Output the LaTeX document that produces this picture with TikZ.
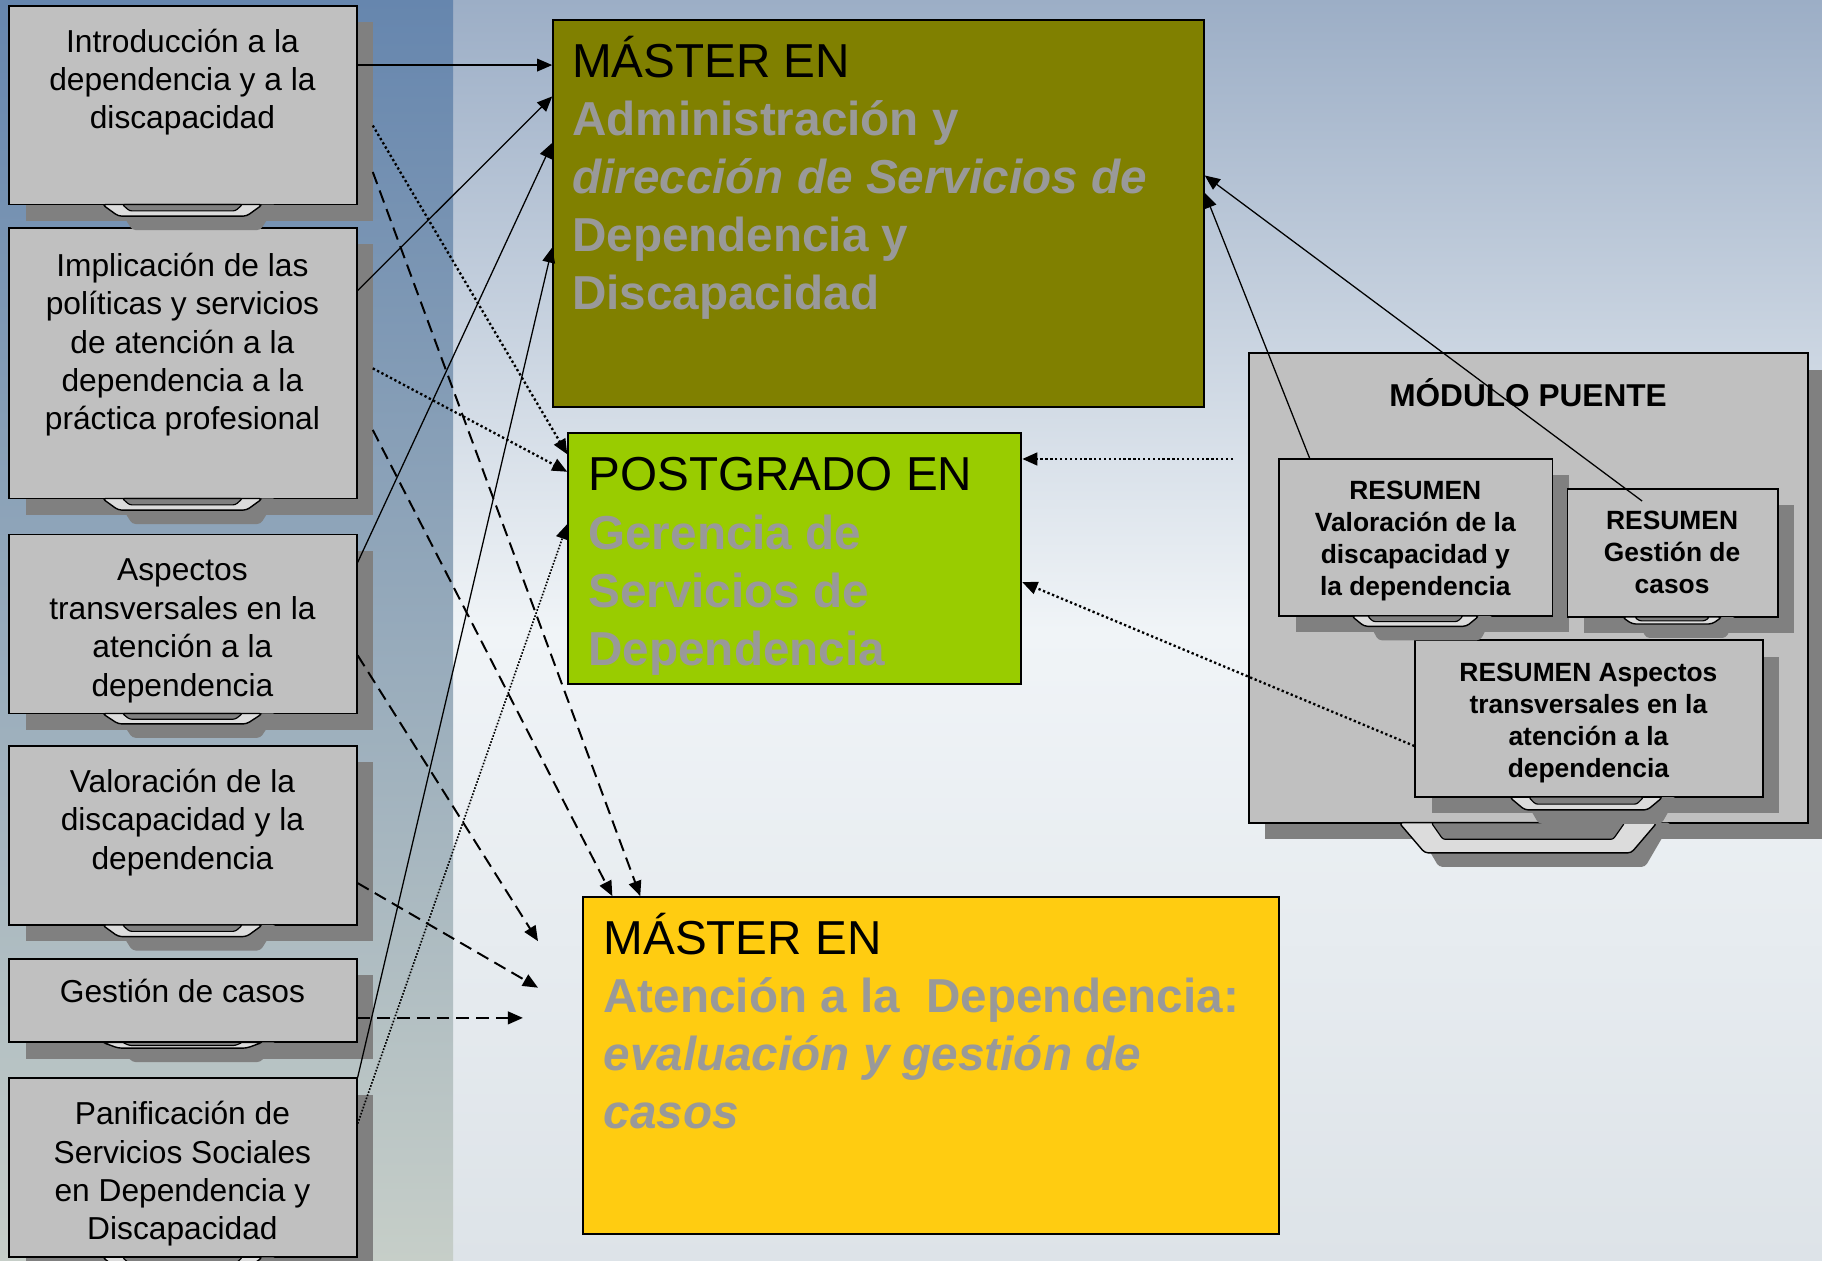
\documentclass[tikz,border=0pt]{standalone}
\usepackage{fontspec}
\setmainfont{Liberation Sans}
\usetikzlibrary{arrows.meta,calc,fit}
\definecolor{boxc}{HTML}{C0C0C0}
\definecolor{shadowc}{HTML}{808080}
\definecolor{tabc}{HTML}{DCDCDC}
\definecolor{olivec}{HTML}{808000}
\definecolor{greenc}{HTML}{99CC00}
\definecolor{yellowc}{HTML}{FFCC11}
\definecolor{greytext}{HTML}{999999}
\definecolor{leftTop}{HTML}{6686AE}
\definecolor{leftBot}{HTML}{C6CEC8}
\definecolor{bgTop}{HTML}{9CAEC6}
\definecolor{bgMid}{HTML}{F0F4F7}
\definecolor{bgBot}{HTML}{DDE3E8}
\newcommand\ctr[1]{\vtop{\halign{\hfil##\hfil\cr#1\crcr}}}
\newcommand\lft[1]{\vtop{\halign{##\hfil\cr#1\crcr}}}
\newcommand\mkbox[5]{%
  \fill[shadowc] ({#2+14},{#3+14}) rectangle ({#4+14},{#5+14});
  \node[bx, fit={(#2,#3)(#4,#5)}] (#1) {};}
\newcommand\mktab[4]{%
  \fill[shadowc,rounded corners=1.5pt] ({#1-#3+12},{#2}) -- ({#1-0.8*#3+12},{#2+#4+12}) -- ({#1+0.8*#3+12},{#2+#4+12}) -- ({#1+#3+12},{#2}) -- cycle;
  \filldraw[fill=tabc,draw=black,line width=0.6pt,rounded corners=1.5pt] ({#1-#3},{#2}) -- ({#1-0.8*#3},{#2+#4}) -- ({#1+0.8*#3},{#2+#4}) -- ({#1+#3},{#2}) -- cycle;
  \filldraw[fill=shadowc,draw=black,line width=0.5pt,rounded corners=1pt] ({#1-0.75*#3},{#2}) -- ({#1-0.66*#3},{#2+0.55*#4}) -- ({#1+0.66*#3},{#2+0.55*#4}) -- ({#1+0.75*#3},{#2}) -- cycle;}
\begin{document}
\begin{tikzpicture}[x=0.5pt,y=-0.5pt,
  bx/.style={draw=black,line width=0.8pt,fill=boxc,inner sep=0pt},
  mbox/.style={draw=black,line width=0.8pt,inner sep=0pt},
  ltxt/.style={inner sep=0pt,anchor=base,font=\fontsize{13.65}{16.5}\selectfont},
  btxt/.style={inner sep=0pt,anchor=base west,text=greytext,font=\fontsize{20.5}{25}\selectfont\bfseries},
  rtxt/.style={inner sep=0pt,anchor=base,font=\fontsize{11.35}{13.75}\selectfont\bfseries},
  arr/.style={-{Triangle[length=6.5pt,width=5.5pt]},line width=0.55pt},
  dotb/.style={arr,line width=1pt,dash pattern=on 1pt off 1.1pt},
  dotf/.style={arr,line width=0.7pt,dash pattern=on 0.7pt off 0.7pt},
  dsh/.style={arr,line width=0.85pt,dash pattern=on 5.5pt off 3pt}]
\useasboundingbox (0,0) rectangle (1568,1085);
% background
\shade[top color=bgTop,bottom color=bgBot,middle color=bgMid] (0,0) rectangle (1568,1085);
\shade[top color=leftTop,bottom color=leftBot] (0,0) rectangle (390,1085);
% left boxes
\mkbox{intro}{8}{5}{307}{176}
\mkbox{implic}{8}{196}{307}{429}
\mkbox{aspect}{8}{460}{307}{614}
\mkbox{valor}{8}{642}{307}{796}
\mkbox{gestion}{8}{825}{307}{897}
\mkbox{panif}{8}{928}{307}{1082}
\mktab{157}{176}{69}{10}
\mktab{157}{429}{69}{10}
\mktab{157}{614}{69}{9}
\mktab{157}{796}{69}{10}
\mktab{157}{897}{69}{5}
\mktab{157}{1082}{69}{10}
\node[ltxt] (tintro) at (157,45) {\ctr{Introducción a la\cr dependencia y a la\cr discapacidad}};
\node[ltxt] (timplic) at (157,238) {\ctr{Implicación de las\cr políticas y servicios\cr de atención a la\cr dependencia a la\cr práctica profesional}};
\node[ltxt] (taspect) at (157,500) {\ctr{Aspectos\cr transversales en la\cr atención a la\cr dependencia}};
\node[ltxt] (tvalor) at (157,682) {\ctr{Valoración de la\cr discapacidad y la\cr dependencia}};
\node[ltxt] (tgestion) at (157,863) {\ctr{Gestión de casos}};
\node[ltxt] (tpanif) at (157,968) {\ctr{Panificación de\cr Servicios Sociales\cr en Dependencia y\cr Discapacidad}};
% middle boxes
\node[mbox,fill=olivec,fit={(476,17)(1036,350)}] (master) {};
\node[mbox,fill=greenc,fit={(489,373)(879,589)}] (postg) {};
\node[mbox,fill=yellowc,fit={(502,772)(1101,1062)}] (yellow) {};
\node[btxt] (tmaster) at (492,66.5) {\lft{{\mdseries\color{black}MÁSTER EN}\cr Administración y\cr {\itshape dirección de Servicios de}\cr Dependencia y\cr Discapacidad}};
\node[btxt] (tpostg) at (506,422.5) {\lft{{\mdseries\color{black}POSTGRADO EN}\cr Gerencia de\cr Servicios de\cr Dependencia}};
\node[btxt] (tyellow) at (519,821.5) {\lft{{\mdseries\color{black}MÁSTER EN}\cr Atención a la\ \ Dependencia:\cr {\itshape evaluación y gestión de}\cr {\itshape casos}}};
% modulo puente
\mkbox{modulo}{1075}{304}{1556}{708}
\mktab{1315}{708}{111}{26}
\mkbox{resval}{1101}{395}{1336}{530}
\mkbox{resges}{1349}{421}{1530}{531}
\mkbox{resasp}{1218}{551}{1517}{686}
\mktab{1218}{530}{55}{9}
\mktab{1439}{531}{43}{6}
\mktab{1365}{686}{66}{11}
\node[inner sep=0pt,anchor=base,font=\fontsize{13.6}{16}\selectfont\bfseries] (tmodulo) at (1315,349.5) {MÓDULO PUENTE};
\node[rtxt] (tresval) at (1218,430) {\ctr{RESUMEN\cr Valoración de la\cr discapacidad y\cr la dependencia}};
\node[rtxt] (tresges) at (1439,455.5) {\ctr{RESUMEN\cr Gestión de\cr casos}};
\node[rtxt] (tresasp) at (1367,586.5) {\ctr{RESUMEN Aspectos\cr transversales en la\cr atención a la\cr dependencia}};
% connectors: solid
\draw[arr] (intro.east |- 0,56) -- (master.west |- 0,56);
\draw[arr] (implic.east |- 0,250) -- (master.west |- 0,83);
\draw[arr] (aspect.east |- 0,484) -- (master.west |- 0,123);
\draw[arr] (panif.north east) -- (master.west |- 0,213);
\draw[arr] (resval.north -| 1127,0) -- (master.east |- 0,166);
\draw[arr] ($(resges.north west)+(65,11)$) -- (master.east |- 0,151);
% dotted
\draw[dotb] ($(intro.east |- 0,108)+(13,0)$) -- (postg.west |- 0,391);
\draw[dotb] ($(implic.east |- 0,317)+(13,0)$) -- (postg.west |- 0,406);
\draw[dotf] (panif.east |- 0,967) -- (postg.west |- 0,451);
\draw[dotb] ($(modulo.west |- 0,395)+(-13,0)$) -- (postg.east |- 0,395);
\draw[dotb] (resasp.west |- 0,642) -- (postg.east |- 0,501);
% dashed
\coordinate (e1) at (463,810);
\coordinate (e2) at (463,850);
\coordinate (e3) at (450,876);
\draw[dsh] ($(intro.east |- 0,148)+(13,0)$) -- (551,0 |- yellow.north);
\draw[dsh] ($(implic.east |- 0,370)+(13,0)$) -- (527,0 |- yellow.north);
\draw[dsh] (aspect.east |- 0,564) -- (e1);
\draw[dsh] (valor.east |- 0,760) -- (e2);
\draw[dsh] (gestion.east |- 0,876) -- (e3);
\end{tikzpicture}
\end{document}
